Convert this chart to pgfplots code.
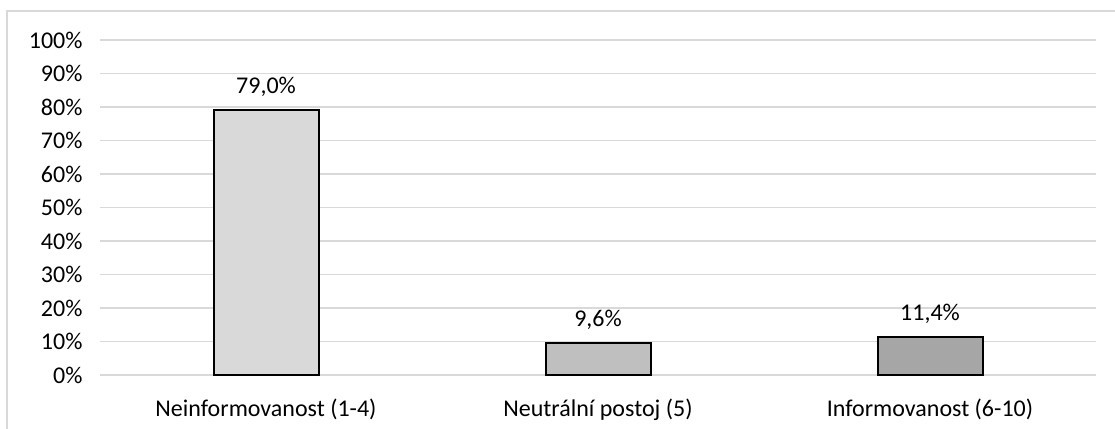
\documentclass[border=0pt]{standalone}
\usepackage{fontspec}
\setmainfont{Carlito}
\usepackage{pgfplots}
\pgfplotsset{compat=1.18}
\definecolor{gridc}{HTML}{D9D9D9}
\definecolor{barA}{HTML}{D9D9D9}
\definecolor{barB}{HTML}{BFBFBF}
\definecolor{barC}{HTML}{A6A6A6}
\begin{document}
\begin{tikzpicture}
\begin{axis}[
  at={(100bp,54bp)}, anchor=south west,
  scale only axis, width=996bp, height=335bp,
  xmin=-0.5, xmax=2.5, ymin=0, ymax=100,
  enlargelimits=false, clip=false,
  ybar, bar width=105bp, bar shift=0pt,
  ytick={0,10,...,100},
  xtick={0,1,2},
  xticklabels={Neinformovanost (1-4), Neutrální postoj (5), Informovanost (6-10)},
  /pgf/number format/assume math mode=true,
  yticklabel={\pgfmathprintnumber{\tick}\%},
  axis line style={draw=none},
  tick style={draw=none},
  ymajorgrids, grid style={gridc, line width=1.8bp},
  tick label style={font=\fontsize{24bp}{28bp}\selectfont},
  yticklabel shift=14bp,
  xticklabel shift=16bp,
  nodes near coords={\pgfmathprintnumber[fixed,fixed zerofill,precision=1,use comma]{\pgfplotspointmeta}\%},
  every node near coord/.append style={font=\fontsize{24bp}{28bp}\selectfont, yshift=9bp, text=black},
]
\addplot[fill=barA, draw=black, line width=2bp] coordinates {(0,79.0)};
\addplot[fill=barB, draw=black, line width=2bp] coordinates {(1,9.6)};
\addplot[fill=barC, draw=black, line width=2bp] coordinates {(2,11.4)};
\end{axis}
\draw[gridc, line width=1.5bp] (7bp,-20bp) -- (7bp,418bp) -- (1130bp,418bp);
\pgfresetboundingbox
\path[use as bounding box] (0,0) rectangle (1115bp,429bp);
\end{tikzpicture}
\end{document}
